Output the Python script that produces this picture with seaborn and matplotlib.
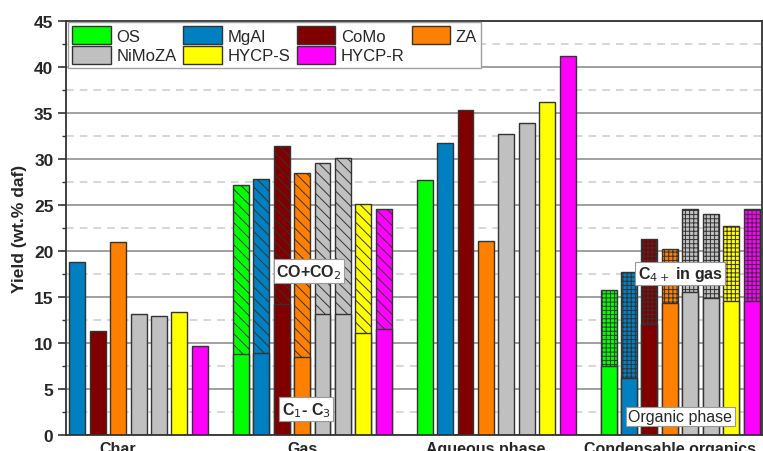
import pandas as pd
import seaborn as sns
import matplotlib.pyplot as plt
from matplotlib.patches import Patch
from matplotlib.ticker import MultipleLocator

# dane
groups = ['Char', 'Gas', 'Aqueous phase', 'Condensable organics']
catalysts = ['OS', 'MgAl', 'CoMo', 'ZA', 'NiMoZA', 'NiMoZA-2', 'HYCP-S', 'HYCP-R']
colors = ['#00ff00', '#0080c0', '#800000', '#ff8000', '#c0c0c0', '#c0c0c0', '#ffff00', '#ff00ff']
legend_names = ['OS', 'MgAl', 'CoMo', 'ZA', 'NiMoZA', 'HYCP-S', 'HYCP-R']

char = [0, 18.8, 11.3, 21.0, 13.1, 12.9, 13.4, 9.7]
gas_total = [27.2, 27.8, 31.4, 28.5, 29.6, 30.1, 25.1, 24.6]
gas_c1c3 = [8.8, 8.9, 14.2, 8.5, 13.1, 13.1, 11.1, 11.5]
aqueous = [27.7, 31.7, 35.3, 21.1, 32.7, 33.9, 36.2, 41.2]
cond_total = [15.8, 17.7, 21.3, 20.2, 24.6, 24.0, 22.7, 24.6]
cond_organic = [7.5, 6.2, 12.1, 14.3, 15.5, 14.9, 14.6, 14.6]

solid = [char, gas_c1c3, aqueous, cond_organic]
hatched = [None, gas_total, None, cond_total]

# ramka danych: pozycja slupka = 9 * grupa + indeks katalizatora
rows = []
for g in range(len(groups)):
    for i, cat in enumerate(catalysts):
        rows.append({'group': groups[g], 'catalyst': cat, 'slot': 9 * g + i,
                     'solid': solid[g][i],
                     'total': hatched[g][i] if hatched[g] is not None else None})
df = pd.DataFrame(rows)
palette = dict(zip(catalysts, colors))

sns.set_style('white')
plt.rcParams['font.family'] = ['Liberation Sans', 'DejaVu Sans']
plt.rcParams['hatch.linewidth'] = 0.7

fig = plt.figure(figsize=(7.63, 4.52), dpi=100)
ax = fig.add_axes([0.0865, 0.0354, 0.912, 0.916])

# gorna czesc (kreskowana) - calkowita wysokosc dla Gas i Condensable
d_h = df.dropna(subset=['total'])
sns.barplot(data=d_h, x='slot', y='total', hue='catalyst', palette=palette,
            native_scale=True, dodge=False, width=0.78, saturation=1,
            errorbar=None, legend=False, edgecolor='#333333', linewidth=1.0, ax=ax)
for p in ax.patches:
    p.set_hatch('\\\\\\' if p.get_x() < 18 else '++++')

# dolna czesc (pelna)
sns.barplot(data=df, x='slot', y='solid', hue='catalyst', palette=palette,
            native_scale=True, dodge=False, width=0.78, saturation=1,
            errorbar=None, legend=False, edgecolor='#333333', linewidth=1.0, ax=ax)

ax.set_xlim(0.45, 34.5)
ax.set_ylim(0, 45)
ax.set_xticks([3, 12, 21, 30])
ax.set_xticklabels(groups, fontweight='bold', fontsize=11.5)
ax.yaxis.set_major_locator(MultipleLocator(5))
ax.yaxis.set_minor_locator(MultipleLocator(2.5))
for t in ax.get_yticklabels():
    t.set_fontweight('bold')
ax.tick_params(axis='y', which='major', left=True, length=6, width=1.2,
               labelsize=12.5, direction='out', color='#333333', pad=3)
ax.tick_params(axis='y', which='minor', left=True, length=3, width=1.0, color='#333333')
ax.tick_params(axis='x', length=0, pad=4)
ax.set_xlabel('')
ax.set_ylabel('Yield (wt.% daf)', fontweight='bold', fontsize=12.5, labelpad=5)

ax.grid(which='major', axis='y', color='#a0a0a0', lw=1.4)
ax.grid(which='minor', axis='y', color='#cccccc', lw=1.1, ls=(0, (5, 4)))
ax.set_axisbelow(True)
for s in ax.spines.values():
    s.set_color('#333333')
    s.set_linewidth(1.3)

# opisy czesci slupkow
box = dict(boxstyle='square,pad=0.15', facecolor='white', edgecolor='#999999', lw=0.8)
ax.text(12.34, 17.8, 'CO+CO$_2$', ha='center', va='center', fontsize=11.5, fontweight='bold', bbox=box)
ax.text(12.2, 2.8, 'C$_1$- C$_3$', ha='center', va='center', fontsize=11.5, fontweight='bold', bbox=box)
ax.text(30.5, 17.55, 'C$_{4+}$ in gas', ha='center', va='center', fontsize=11.5, fontweight='bold', bbox=box)
ax.text(30.5, 2.0, 'Organic phase', ha='center', va='center', fontsize=11.5, bbox=box)

# legenda (wierszami, bez drugiego szarego slupka)
leg_colors = [palette[c] for c in ['OS', 'MgAl', 'CoMo', 'ZA', 'NiMoZA', 'HYCP-S', 'HYCP-R']]
handles = [Patch(facecolor=c, edgecolor='#333333', lw=1.0, label=n)
           for c, n in zip(leg_colors, legend_names)]
order = [0, 4, 1, 5, 2, 6, 3]
leg = ax.legend([handles[i] for i in order], [legend_names[i] for i in order],
                ncol=4, loc='upper left', bbox_to_anchor=(0.003, 0.998), borderaxespad=0,
                fontsize=12, handlelength=2.3, handleheight=1.3, handletextpad=0.35,
                columnspacing=0.4, borderpad=0.25, labelspacing=0.1,
                frameon=True, fancybox=False, framealpha=1, edgecolor='#a0a0a0')
leg.get_frame().set_linewidth(1.0)

plt.savefig('out.png', dpi=100)
plt.close()
